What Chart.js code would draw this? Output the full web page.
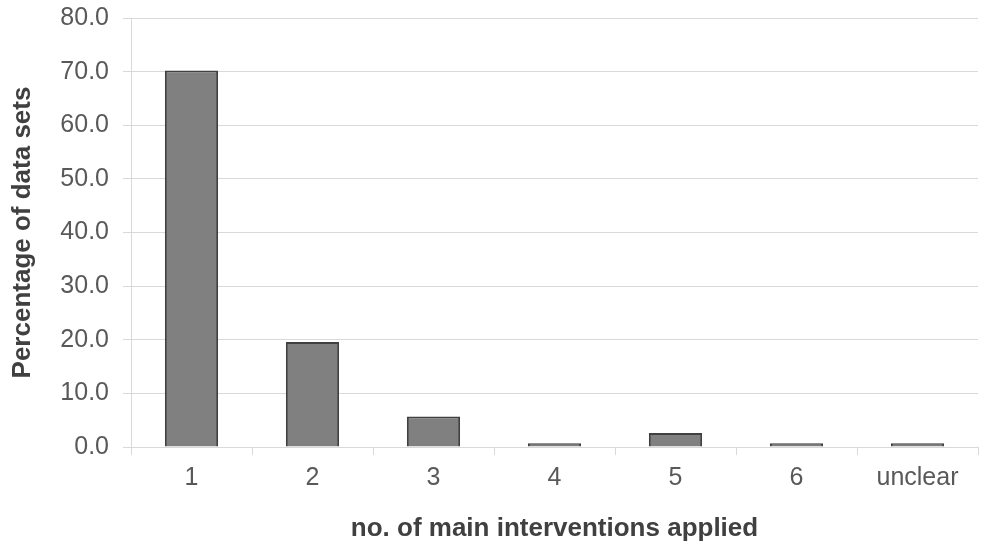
<!DOCTYPE html>
<html>
<head>
<meta charset="utf-8">
<script src="https://cdn.jsdelivr.net/npm/chart.js@4"></script>
<style>
  html, body { margin: 0; padding: 0; background: #fff; }
  #wrap { width: 981px; height: 544px; }
</style>
</head>
<body>
<div id="wrap"><canvas id="barChart" width="981" height="544"></canvas></div>
<script>
const categories = ["1", "2", "3", "4", "5", "6", "unclear"];
const percentages = [70.2, 19.6, 5.7, 0.7, 2.6, 0.7, 0.7];
const yTicks = [0, 10, 20, 30, 40, 50, 60, 70, 80];

const ctx = document.getElementById("barChart").getContext("2d");
new Chart(ctx, {
  type: "bar",
  data: {
    labels: categories,
    datasets: [
      {
        data: percentages,
        backgroundColor: "#808080",
        borderColor: "#404040",
        borderWidth: 2,
        categoryPercentage: 1.0,
        barPercentage: 0.44,
      },
    ],
  },
  options: {
    responsive: false,
    animation: false,
    layout: { padding: { top: 18, right: 3, left: 0, bottom: 0 } },
    plugins: { legend: { display: false }, tooltip: { enabled: false } },
    scales: {
      x: {
        grid: { drawOnChartArea: false, color: "#d9d9d9", tickLength: 8, lineWidth: 1 },
        border: { color: "#d9d9d9" },
        ticks: { color: "#595959", font: { family: "Liberation Sans", size: 25 }, padding: 8 },
        title: {
          display: true,
          text: "no. of main interventions applied",
          color: "#404040",
          font: { family: "Liberation Sans", size: 26, weight: "bold" },
          padding: { top: 10, bottom: 0 },
        },
        afterFit: (axis) => { axis.height = 97; },
      },
      y: {
        min: 0,
        max: 80,
        afterBuildTicks: (axis) => { axis.ticks = yTicks.map((v) => ({ value: v })); },
        grid: { color: "#d9d9d9", tickLength: 8 },
        border: { color: "#d9d9d9" },
        ticks: {
          color: "#595959",
          font: { family: "Liberation Sans", size: 25 },
          padding: 14,
          callback: (v) => v.toFixed(1),
        },
        title: {
          display: true,
          text: "Percentage of data sets",
          color: "#404040",
          font: { family: "Liberation Sans", size: 26, weight: "bold" },
          padding: { top: 7, bottom: 0 },
        },
        afterFit: (axis) => {
          axis.width = 131;
          axis.paddingTop = 0;
          axis.paddingBottom = 0;
        },
      },
    },
  },
});
</script>
</body>
</html>
